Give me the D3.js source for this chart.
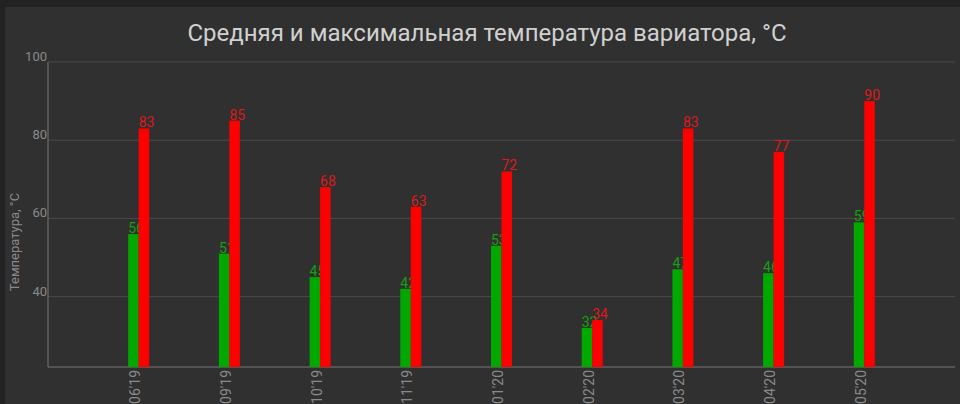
<!DOCTYPE html>
<html>
<head>
<meta charset="utf-8">
<script src="https://cdn.jsdelivr.net/npm/d3@7"></script>
<style>
	html, body { margin: 0; padding: 0; background: #000; }
	svg { display: block; font-family: Roboto, 'Noto Sans', sans-serif; }
</style>
</head>
<body>
<div id="chart"></div>
<script>
var months = ["06'19", "09'19", "10'19", "11'19", "01'20", "02'20", "03'20", "04'20", "05'20"];
var avgTemp = [56, 51, 45, 42, 53, 32, 47, 46, 59];
var maxTemp = [83, 85, 68, 63, 72, 34, 83, 77, 90];
var yTicks = [40, 60, 80, 100];

var width = 960, height = 404;
var margin = {top: 62, right: 5, bottom: 37, left: 48};

var svg = d3.select('#chart').append('svg')
	.attr('width', width)
	.attr('height', height);

// frame: dark strip on top, black on the left
svg.append('rect').attr('width', width).attr('height', height).attr('fill', '#222');
svg.append('rect').attr('x', 5).attr('y', 7).attr('width', width - 5).attr('height', height - 7).attr('fill', '#303030');

var x = d3.scaleLinear()
	.domain([0, months.length + 1])
	.range([margin.left, width - margin.right]);

var y = d3.scaleLinear()
	.domain([d3.min(avgTemp) - 10, 100])
	.range([height - margin.bottom, margin.top]);

var barW = 10.5;

// grid
svg.append('g').selectAll('line')
	.data(yTicks)
	.join('line')
	.attr('x1', margin.left).attr('x2', width - margin.right)
	.attr('y1', d => y(d)).attr('y2', d => y(d))
	.attr('stroke', '#4a4a4a').attr('stroke-width', 1);

svg.append('g').selectAll('text')
	.data(yTicks)
	.join('text')
	.attr('x', margin.left - 1)
	.attr('y', d => y(d) - 1)
	.attr('text-anchor', 'end')
	.attr('fill', '#8a8a8a')
	.attr('font-size', 13)
	.text(d => d);

// axes lines
svg.append('line')
	.attr('x1', margin.left).attr('x2', margin.left)
	.attr('y1', margin.top).attr('y2', y.range()[0])
	.attr('stroke', '#777');
svg.append('line')
	.attr('x1', margin.left).attr('x2', width - margin.right)
	.attr('y1', y.range()[0]).attr('y2', y.range()[0])
	.attr('stroke', '#777');

// avg bars + labels
svg.append('g').selectAll('rect')
	.data(avgTemp)
	.join('rect')
	.attr('x', (d, i) => x(i + 1) - barW)
	.attr('y', d => y(d))
	.attr('width', barW)
	.attr('height', d => y.range()[0] - y(d))
	.attr('fill', '#00a800');

svg.append('g').selectAll('text')
	.data(avgTemp)
	.join('text')
	.attr('x', (d, i) => x(i + 1) - barW)
	.attr('y', d => y(d) - 1)
	.attr('fill', '#10a010')
	.attr('font-size', 14)
	.text(d => d);

// max bars + labels (drawn over the avg ones, like the original)
svg.append('g').selectAll('rect')
	.data(maxTemp)
	.join('rect')
	.attr('x', (d, i) => x(i + 1))
	.attr('y', d => y(d))
	.attr('width', barW)
	.attr('height', d => y.range()[0] - y(d))
	.attr('fill', '#ff0000');

svg.append('g').selectAll('text')
	.data(maxTemp)
	.join('text')
	.attr('x', (d, i) => x(i + 1))
	.attr('y', d => y(d) - 1)
	.attr('fill', '#dd1a1a')
	.attr('font-size', 14)
	.text(d => d);

// x labels, rotated
svg.append('g').selectAll('text')
	.data(months)
	.join('text')
	.attr('transform', (d, i) => 'translate(' + (x(i + 1) + 1.5) + ',' + (y.range()[0] + 3) + ') rotate(-90)')
	.attr('text-anchor', 'end')
	.attr('fill', '#8a8a8a')
	.attr('font-size', 14)
	.text(d => d);

// titles
svg.append('text')
	.attr('x', 487)
	.attr('y', 41)
	.attr('text-anchor', 'middle')
	.attr('fill', '#d0d0d0')
	.attr('font-size', 24)
	.text('Средняя и максимальная температура вариатора, °C');

svg.append('text')
	.attr('transform', 'translate(19,242) rotate(-90)')
	.attr('text-anchor', 'middle')
	.attr('fill', '#8a8a8a')
	.attr('font-size', 13)
	.text('Температура, °C');
</script>
</body>
</html>
